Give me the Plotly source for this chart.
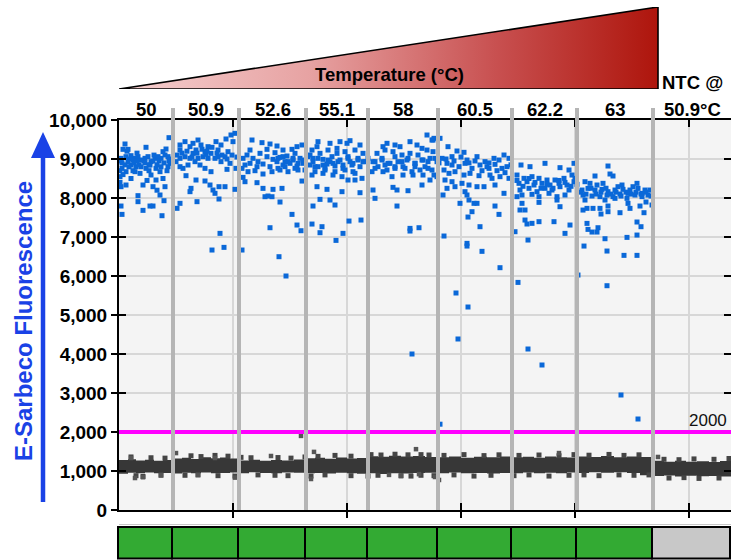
import plotly.graph_objects as go

# ---------------- data ----------------
W, H = 731, 560
temps = [50, 50.9, 52.6, 55.1, 58, 60.5, 62.2, 63]
ntc_label = "NTC @"
ntc_temp = 50.9
# droplet-event axis positions of the well boundaries (8 gradient wells + NTC)
well_edges = [0, 54, 120, 187, 249, 319, 393, 458, 534, 612]
threshold = 2000
y_ticks = [0, 1000, 2000, 3000, 4000, 5000, 6000, 7000, 8000, 9000, 10000]
x_ticks = [114, 228, 342, 456, 570]
gradient_end = 539

# positive droplets (event, amplitude) per well
w1 = [(6,9385),(4,9248),(9,9248),(2,9017),(7,9060),(12,9085),(16,9017),(19,9060),(22,8975),(26,9017),
      (29,9060),(32,8932),(36,9017),(39,9060),(42,9017),(46,9102),(49,9060),(47,9256),(27,9300),(50,9547),
      (44,9188),(3,8760),(1,8547),(7,8675),(12,8846),(17,8803),(21,8632),(24,8333),(27,8760),(32,8590),
      (34,8290),(37,8461),(41,8675),(46,8290),(49,8803),(2,8290),(7,8333),(19,8060),(19,7906),(2,7794),
      (3,7580),(24,7683),(31,7794),(34,7794),(41,8077),(45,7931),(43,7546),(16,8675),(9,8932),(14,8975),
      (31,8846),(37,8760),(51,8889),(1,8400),(1,8700),(4,8600),(3,8900),(10,9000),(15,8900),(20,8850),
      (25,8950),(30,8850),(35,9100),(40,8950),(45,8900),(50,8950),(12,8500),(28,8450),(38,8200),(44,8500),
      (8,9200),(18,9150)]
w2 = [(61,9359),(66,9445),(61,9231),(71,9316),(74,9402),(79,9487),(77,9231),(82,9359),(86,9188),(89,9316),
      (92,9145),(97,9445),(99,9231),(102,9359),(107,9513),(112,9616),(116,9658),(114,9445),(106,9060),(109,9188),
      (99,9060),(96,9017),(89,9017),(84,9060),(79,9017),(76,8932),(71,9017),(66,9060),(61,9017),(57,8932),
      (61,8803),(67,8572),(77,8461),(72,8248),(71,8162),(86,8436),(91,8333),(94,8205),(96,8120),(100,8290),
      (106,8290),(100,7974),(92,8675),(116,8222),(108,8735),(61,7863),(58,7735),(78,7906),(101,7093),(93,6666),
      (105,6734),(117,8760),(86,8760),(81,8846),(69,8846),(64,8760),(102,8932),(111,8889),(74,9145),(87,9120)]
w3 = [(133,9487),(143,9419),(151,9384),(158,9333),(164,9230),(173,9248),(178,9316),(183,9359),(128,9102),(134,9017),
      (141,9145),(148,9060),(154,8991),(161,9042),(168,9077),(174,8974),(181,9017),(126,8846),(131,8889),(138,8803),
      (144,8871),(151,8803),(158,8931),(164,8846),(171,8889),(178,8820),(184,8889),(129,8675),(136,8700),(144,8615),
      (153,8675),(161,8718),(169,8675),(179,8718),(124,8529),(126,8418),(138,8393),(144,8247),(154,8222),(163,8247),
      (146,8033),(149,8051),(153,8033),(161,7897),(183,8435),(173,7580),(178,7307),(182,7161),(151,7238),(123,6666),
      (160,6495),(167,6000),(124,9017),(123,8760),(139,8931),(156,9162),(166,8931),(176,9145),(148,9248),(131,9230)]
w4 = [(199,9444),(211,9402),(221,9444),(231,9470),(241,9359),(193,9230),(201,9145),(209,9230),(218,9273),(226,9188),
      (236,9230),(244,9145),(194,9017),(204,8991),(213,9060),(221,8974),(229,9060),(239,9017),(246,8931),(191,8846),
      (199,8803),(208,8871),(216,8820),(224,8760),(233,8846),(241,8803),(196,8675),(204,8632),(214,8589),(223,8547),
      (229,8461),(236,8461),(243,8504),(193,8589),(198,8290),(208,8222),(201,7965),(211,7948),(216,7820),(194,7794),
      (223,8162),(241,8136),(193,7332),(203,7264),(201,7110),(217,6913),(224,7093),(230,7409),(242,7435),(198,9316),
      (218,9145),(206,8718),(234,8675),(228,9402),(191,9102),(211,8931),(231,8931)]
w5 = [(268,9402),(276,9359),(291,9444),(308,9615),(313,9487),(303,9273),(258,9145),(266,9230),(274,9188),(283,9102),
      (291,9145),(299,9102),(308,9230),(314,9188),(254,8931),(263,8974),(271,8889),(279,8931),(288,8974),(296,8889),
      (304,8974),(311,9017),(318,8931),(259,8803),(268,8718),(276,8760),(284,8803),(293,8675),(301,8718),(309,8760),
      (264,8675),(273,8547),(284,8589),(294,8589),(311,8461),(303,8333),(318,8547),(254,8205),(256,7991),(274,8273),
      (278,8205),(289,8187),(278,7794),(291,7221),(291,7153),(300,7238),(314,9487),(264,9316),(281,9316),(298,9359),
      (253,8675),(304,8589),(315,9530),(316,9017),(315,8589),(293,4000)]
w6 = [(329,9316),(338,9205),(345,9171),(348,8974),(358,9060),(366,8932),(375,9017),(380,8974),(385,9102),(390,9017),
      (323,9017),(328,8889),(333,8846),(340,8803),(346,8889),(353,8760),(361,8846),(368,8803),(376,8863),(383,8760),
      (388,8803),(325,8718),(330,8632),(336,8675),(345,8589),(351,8632),(360,8572),(371,8589),(381,8547),(390,8504),
      (326,8461),(333,8418),(343,8376),(350,8333),(358,8290),(365,8290),(376,8333),(328,8248),(336,8290),(346,8162),
      (324,8077),(341,7863),(350,7948),(355,7863),(358,7863),(348,8077),(385,8120),(376,7794),(380,7580),(353,7649),
      (349,7512),(361,7264),(325,7025),(348,6837),(348,6768),(363,6632),(381,6213),(321,9530),(333,9060),(370,8760),
      (373,8504),(339,4385),(349,5205),(337,5564),(321,2200)]
w7 = [(402,8846),(411,8803),(426,8889),(441,8778),(450,8718),(398,8589),(405,8504),(413,8547),(420,8504),(428,8461),
      (436,8461),(445,8504),(453,8589),(400,8376),(408,8418),(415,8333),(423,8376),(431,8333),(440,8376),(448,8333),
      (455,8418),(401,8205),(410,8248),(418,8162),(426,8248),(433,8205),(441,8290),(450,8205),(398,8034),(403,8077),
      (413,8094),(420,8034),(430,8120),(438,8034),(446,8077),(403,7863),(420,7888),(438,7948),(441,7777),(401,7692),
      (406,7692),(406,7435),(408,7333),(413,7350),(420,7393),(435,7393),(451,7307),(446,7093),(409,6922),(396,7136),
      (399,5836),(456,8504),(455,8889),(409,4128),(423,3718)]
w8 = [(489,8820),(491,8615),(494,8564),(476,8564),(466,8418),(471,8376),(478,8333),(484,8376),(503,8333),(518,8376),
      (463,8204),(469,8247),(476,8204),(483,8222),(489,8162),(496,8204),(504,8222),(511,8204),(519,8247),(526,8204),
      (531,8204),(464,8076),(473,8051),(481,8034),(488,8076),(494,8034),(501,8102),(509,8119),(516,8076),(523,8119),
      (529,8076),(466,7948),(486,7948),(496,7991),(508,7991),(523,8034),(527,7897),(509,7862),(521,7794),(464,7691),
      (468,7734),(474,7734),(481,7734),(489,7794),(489,7649),(482,7589),(501,7623),(511,7734),(525,7623),(468,7349),
      (469,7195),(473,7127),(478,7127),(479,7238),(486,6956),(518,7384),(522,7264),(518,7050),(508,6990),(465,6768),
      (488,6640),(505,6529),(518,6529),(488,5751),(533,7820),(499,8290),(514,8290),(459,6025),(502,2949),(519,2333)]
# densely packed droplets in the cluster cores
core = [(2,8950),(6,8850),(10,8800),(14,8700),(18,8950),(22,8800),(26,8900),(30,8700),(34,8950),(38,8850),
        (42,8800),(48,8700),(52,9000),(58,9100),(63,9150),(68,9200),(73,9050),(78,9150),(83,9250),(88,9200),
        (93,9300),(98,9150),(103,9100),(108,9000),(113,9100),(118,9050),
        (159,9017),(164,9060),(169,8932),(174,9017),(179,8889),(184,8974),(189,9060),(194,8932),(199,9017),(204,8846),
        (209,8974),(214,8889),(219,8932),(224,8846),(229,9017),(234,8889),(239,8974),(244,8932),(249,9017),(256,8932),
        (263,9017),(269,8889),(276,9060),(283,8932),(289,9017),(296,8889),(303,8974),(309,8932),(159,8761),(166,8803),
        (176,8761),(186,8718),(196,8803),(206,8761),(216,8675),(226,8718),(236,8632),(256,8761),(266,8846),(276,8803),
        (286,8761),(296,8803),(306,8803),(313,8718),
        (320,8900),(327,9000),(335,8950),(342,9050),(350,8900),(356,8950),(363,8700),(370,8900),(378,8700),(386,8650),
        (392,8850),(398,8450),(404,8300),(410,8500),(416,8400),(422,8250),(428,8350),(434,8250),(440,8450),(446,8400),
        (452,8300),(458,8350),(462,8150),(467,8100),(472,8250),(477,8100),(482,8150),(487,8250),(492,8100),(497,8150),
        (502,8050),(507,8150),(512,8100),(517,8150),(522,8100),(527,8150),(532,8050)]
positive_sets = [w1, w2, w3, w4, w5, w6, w7, w8, core]

# negative droplet cloud: upper / lower edge read along the event axis
neg_x   = [0, 9, 17, 26, 35, 44, 54, 63, 72, 82, 92, 101, 111, 120, 130, 141, 152, 163, 175, 187,
           196, 206, 217, 228, 238, 249, 259, 270, 282, 294, 306, 319, 330, 342, 355, 368, 381, 393,
           404, 415, 426, 437, 448, 458, 470, 482, 495, 508, 521, 534, 545, 556, 567, 578, 590, 601, 612]
neg_top = [1280, 1300, 1270, 1290, 1265, 1285, 1320, 1340, 1310, 1350, 1330, 1345, 1320, 1270, 1290, 1260, 1285, 1270, 1295, 1330,
           1340, 1315, 1345, 1320, 1335, 1380, 1365, 1390, 1370, 1385, 1360, 1355, 1370, 1340, 1365, 1350, 1375, 1350,
           1365, 1340, 1370, 1355, 1345, 1375, 1360, 1385, 1350, 1370, 1360, 1260, 1240, 1265, 1235, 1250, 1230, 1255, 1240]
neg_bot = [950, 930, 955, 940, 960, 945, 950, 935, 955, 945, 960, 940, 950, 960, 945, 965, 950, 940, 960, 955,
           940, 950, 935, 955, 945, 930, 945, 925, 940, 935, 950, 955, 940, 960, 945, 950, 935, 950,
           945, 960, 940, 955, 945, 960, 950, 970, 955, 965, 950, 890, 870, 885, 860, 880, 865, 875, 860]
# droplets sticking out of the cloud edges
neg_edge_x = [12, 32, 46, 72, 82, 96, 109, 122, 132, 159, 172, 186, 199, 216, 232, 252, 262, 276, 289, 302,
              310, 325, 345, 365, 380, 400, 420, 440, 455, 470, 490, 505, 520, 545, 560, 575, 595, 610,
              17, 24, 42, 66, 79, 99, 116, 139, 156, 169, 192, 206, 232, 249, 259, 282, 292, 302,
              315, 335, 355, 372, 395, 410, 430, 450, 465, 480, 500, 515, 530, 550, 565, 580, 600]
neg_edge_y = [1360, 1340, 1330, 1390, 1370, 1400, 1380, 1350, 1340, 1345, 1330, 1360, 1375, 1400, 1380, 1420, 1410, 1430, 1415, 1420,
              1410, 1400, 1420, 1395, 1415, 1400, 1410, 1390, 1420, 1405, 1425, 1400, 1415, 1300, 1290, 1310, 1300, 1320,
              880, 860, 890, 890, 900, 880, 870, 900, 890, 880, 870, 900, 880, 870, 890, 880, 870, 890,
              880, 900, 870, 890, 880, 900, 870, 890, 900, 880, 900, 890, 900, 820, 830, 810, 820]
neg_out_x = [12, 16, 24, 42, 57, 79, 96, 116, 152, 182, 192, 195, 270, 282, 297, 300, 316, 320, 440, 539]
neg_out_y = [1333, 820, 840, 900, 1460, 900, 1333, 830, 1385, 1900, 795, 1490, 900, 870, 1560, 920, 846, 770, 1460, 1360]

# ---------------- styling ----------------
FONT = "Liberation Sans, Arial, sans-serif"
BLUE_TXT = "#1a42e6"
DOT = "#0a68d8"
px = lambda v: v / W
py = lambda v: 1 - v / H

fig = go.Figure()

# negative band
fig.add_trace(go.Scatter(
    x=neg_x + neg_x[::-1], y=neg_top + neg_bot[::-1], mode="lines", line=dict(width=0, shape="hv"),
    fill="toself", fillcolor="#373737", hoverinfo="skip", showlegend=False))
fig.add_trace(go.Scatter(
    x=neg_edge_x, y=neg_edge_y, mode="markers",
    marker=dict(symbol="square", size=5, color="#454545", line=dict(width=0)), showlegend=False))
fig.add_trace(go.Scatter(
    x=neg_out_x, y=neg_out_y, mode="markers",
    marker=dict(symbol="square", size=4.5, color="#555555", line=dict(width=0)), showlegend=False))

# positive droplets
for w in positive_sets:
    fig.add_trace(go.Scatter(
        x=[p[0] for p in w], y=[p[1] for p in w], mode="markers",
        marker=dict(symbol="square", size=5, color=DOT, line=dict(width=0)), showlegend=False))

# temperature gradient wedge
fig.add_trace(go.Scatter(
    x=[0, gradient_end, gradient_end, 0], y=[0, 0, 1, 0], xaxis="x2", yaxis="y4",
    mode="lines", line=dict(color="black", width=1.6), fill="toself",
    fillgradient=dict(type="horizontal",
                      colorscale=[[0, "#f5cfcf"], [0.35, "#e7a3a3"], [0.7, "#c85050"], [1, "#ae150c"]]),
    hoverinfo="skip", showlegend=False))

x_dom = [119 / W, 1.0]
y_dom = [py(510), py(120)]
axis_common = dict(showline=False, zeroline=False)
tick_font = dict(size=19, weight="bold", family=FONT, color="black")
fig.update_layout(
    width=W, height=H, margin=dict(l=0, r=0, t=0, b=0, pad=0, autoexpand=False),
    paper_bgcolor="white", plot_bgcolor="rgba(0,0,0,0)",
    font=dict(family=FONT, color="black"), showlegend=False,
    xaxis=dict(domain=x_dom, range=[0, 612], tickvals=x_ticks, ticks="inside", ticklen=7, tickwidth=1.5,
               tickcolor="black", showticklabels=False, showgrid=True, gridcolor="#d7d7d7", gridwidth=1.5,
               showline=True, linecolor="black", linewidth=2, mirror="ticks", zeroline=False, automargin=False),
    xaxis3=dict(domain=x_dom, matches="x", overlaying="x", anchor="y", side="bottom", tickvals=x_ticks,
                ticks="outside", ticklen=7, tickwidth=1.5, tickcolor="black", showticklabels=False,
                showgrid=False, automargin=False, **axis_common),
    xaxis2=dict(domain=x_dom, range=[0, 612], anchor="y4", visible=False),
    yaxis=dict(domain=y_dom, range=[0, 10000], tickvals=y_ticks, ticks="inside", ticklen=7, tickwidth=1.5,
               tickcolor="black", showticklabels=False, showgrid=True, gridcolor="#d7d7d7", gridwidth=1.5,
               showline=True, linecolor="black", linewidth=2, mirror="ticks", zeroline=False, automargin=False),
    yaxis2=dict(domain=y_dom, matches="y", overlaying="y", anchor="x", side="left", tickvals=y_ticks,
                ticks="outside", ticklen=7, tickwidth=1.5, tickcolor="black", tickformat=",d",
                tickfont=tick_font, showgrid=False, automargin=False, **axis_common),
    yaxis4=dict(domain=[py(89), py(7)], range=[0, 1], anchor="x2", visible=False),
)
# dummy trace to activate overlay axes
fig.add_trace(go.Scatter(x=[None], y=[None], xaxis="x3", yaxis="y2", showlegend=False))

shapes = []
# plot area background
shapes.append(dict(type="rect", xref="x domain", yref="y domain", x0=0, x1=1, y0=0, y1=1,
                   fillcolor="#f4f4f4", line=dict(width=0), layer="below"))
# threshold line
shapes.append(dict(type="line", xref="x", yref="y", x0=0, x1=612, y0=threshold, y1=threshold,
                   line=dict(color="#ff00ff", width=4), layer="above"))
# well separators
for e in well_edges[1:-1]:
    shapes.append(dict(type="line", xref="x", yref="paper", x0=e, x1=e, y0=py(510), y1=py(108),
                       line=dict(color="#b5b5b5", width=4), layer="above"))
# bottom well boxes
shapes.append(dict(type="line", xref="x", yref="paper", x0=0, x1=612, y0=py(524.5), y1=py(524.5),
                   line=dict(color="#c8c8c8", width=1)))
for i in range(len(well_edges) - 1):
    col = "#33aa33" if i < len(temps) else "#c8c8c8"
    shapes.append(dict(type="rect", xref="paper", yref="paper",
                       x0=px(119 + well_edges[i] - 1), x1=px(119 + well_edges[i + 1] - 1),
                       y0=py(558.5), y1=py(527), fillcolor=col, line=dict(color="black", width=2)))
# blue axis arrow
shapes.append(dict(type="line", xref="paper", yref="paper", x0=px(43), x1=px(43), y0=py(502), y1=py(155),
                   line=dict(color=BLUE_TXT, width=4.5)))
shapes.append(dict(type="path", xref="paper", yref="paper",
                   path=f"M {px(43)} {py(132)} L {px(31)} {py(158)} L {px(55)} {py(158)} Z",
                   fillcolor=BLUE_TXT, line=dict(width=0)))
fig.update_layout(shapes=shapes)

ann = []
lab_font = dict(family=FONT, size=18.5, color="black", weight="bold")
for i, t in enumerate(temps):
    ann.append(dict(x=(well_edges[i] + well_edges[i + 1]) / 2, xref="x", y=py(110), yref="paper",
                    text=f"{t:g}", showarrow=False, font=lab_font, xanchor="center", yanchor="middle"))
ntc_x = (well_edges[-2] + well_edges[-1]) / 2
ann.append(dict(x=ntc_x, xref="x", y=py(110), yref="paper", text=f"{ntc_temp:g}°C", showarrow=False,
                font=lab_font, xanchor="center", yanchor="middle"))
ann.append(dict(x=ntc_x, xref="x", y=py(82), yref="paper", text=ntc_label, showarrow=False,
                font=lab_font, xanchor="center", yanchor="middle"))
ann.append(dict(x=px(389), xref="paper", y=py(75), yref="paper", text="Temperature (°C)", showarrow=False,
                font=dict(family=FONT, size=18.5, color="black", weight="bold"), xanchor="center", yanchor="middle"))
ann.append(dict(x=px(729), xref="paper", y=threshold, yref="y", text=f"{threshold}", showarrow=False,
                font=dict(family=FONT, size=17, color="#111111"), xanchor="right", yanchor="bottom", yshift=0))
ann.append(dict(x=px(23), xref="paper", y=py(321), yref="paper", text="E-Sarbeco Fluorescence", textangle=-90,
                showarrow=False, font=dict(family=FONT, size=24, color=BLUE_TXT, weight="bold"),
                xanchor="center", yanchor="middle"))
fig.update_layout(annotations=ann)

fig.write_html("out.html")
